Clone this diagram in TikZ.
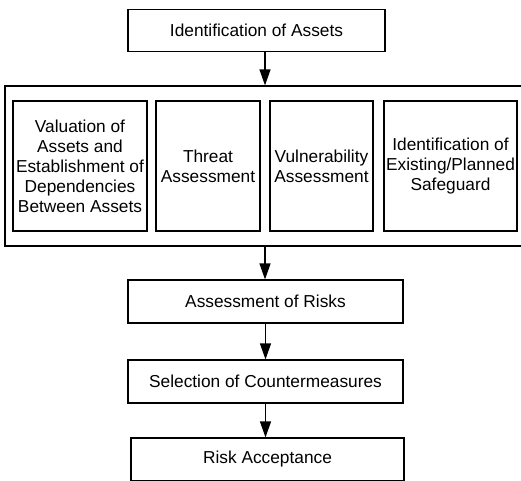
\documentclass[tikz,border=0pt]{standalone}
\usepackage{fontspec}
\setmainfont{Liberation Sans}
\usepackage{tikz}
\usetikzlibrary{positioning}
\usetikzlibrary{arrows.meta}

\tikzset{
	box/.style={rectangle, draw, line width=1.2pt, align=center, inner sep=0pt, font=\fontsize{17.3}{20}\selectfont},
	arrow/.style={line width=1.2pt, -{Triangle[length=16pt,width=11pt]}}
}

\begin{document}
\begin{tikzpicture}[x=1pt,y=-1pt]
				\useasboundingbox (0,0) rectangle (521,480);
				\clip (0,0) rectangle (521,480);
				
				\node[box, minimum width=257pt, minimum height=42pt] (assets) at (256.5,30.5) {Identification of Assets};
				\node[box, minimum width=520pt, minimum height=160pt] (analysis) at (265,166) {};
				\node[box, minimum width=134pt, minimum height=130pt] (valuation) at (80,166) {Valuation of\\Assets and\\Establishment of\\Dependencies\\Between Assets};
				\node[box, minimum width=104pt, minimum height=130pt] (threat) at (208,166) {Threat\\Assessment};
				\node[box, minimum width=103pt, minimum height=130pt] (vuln) at (321.5,166) {Vulnerability\\Assessment};
				\node[box, minimum width=133pt, minimum height=130pt] (safeguard) at (450.5,166) {Identification of\\Existing/Planned\\Safeguard};
				\node[box, minimum width=275pt, minimum height=43pt] (risks) at (265.5,301.5) {Assessment of Risks};
				\node[box, minimum width=275pt, minimum height=43pt] (counter) at (265.5,381.5) {Selection of Countermeasures};
				\node[box, minimum width=273pt, minimum height=43pt] (accept) at (267.5,459.5) {Risk Acceptance};
				
				\draw[arrow] (assets.south -| analysis.north) -- (analysis.north);
				\draw[arrow] (analysis.south) -- (analysis.south |- risks.north);
				\draw[arrow] (risks.south) -- (counter.north);
				\draw[arrow] (counter.south) -- (counter.south |- accept.north);
			\end{tikzpicture}
\end{document}
